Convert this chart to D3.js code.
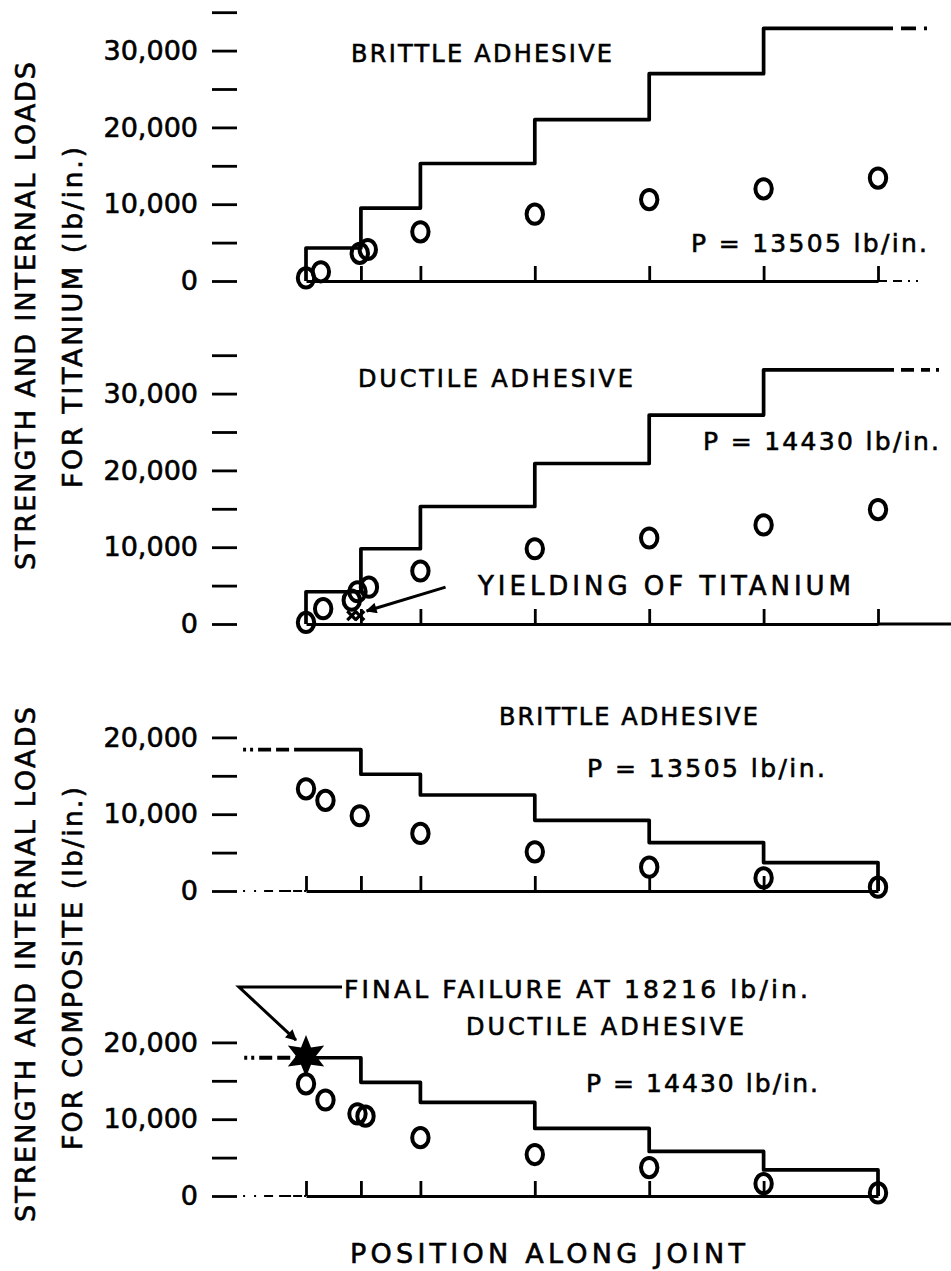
<!doctype html>
<html>

<head>
  <meta charset="utf-8">
  <title>strength and internal loads along joint</title>
  <style>
    body {
      margin: 0;
      background: #fff;
    }

    svg {
      display: block;
    }

    text {
      font-family: 'DejaVu Sans', sans-serif;
      fill: #000;
      stroke: #000;
      stroke-width: 0.6px;
    }
  </style>
</head>

<body>
  <div id="chart"></div>
  <script src="https://cdn.jsdelivr.net/npm/d3@7"></script>
  <script>
    // stations along the joint (x units)
    const stations = [0, 0.48, 1, 2, 3, 4, 5];

    // titanium - brittle adhesive
    const tiBrittleStrength = [4300, 9500, 15300, 21000, 27000, 32900];
    const tiBrittlePos = [0, 0.13, 0.47, 0.54, 1, 2, 3, 4, 5];
    const tiBrittleLoad = [400, 1200, 3600, 4100, 6400, 8700, 10600, 12000, 13400];

    // titanium - ductile adhesive
    const tiDuctileStrength = [4200, 9800, 15300, 20900, 27200, 33100];
    const tiDuctilePos = [0, 0.15, 0.4, 0.45, 0.55, 1, 2, 3, 4, 5];
    const tiDuctileLoad = [200, 2000, 3100, 4200, 4800, 6900, 9800, 11200, 12900, 14900];
    const yieldPos = [0.4, 0.47];
    const yieldLoad = [1100, 1100];

    // composite - brittle adhesive
    const coBrittleStrength = [18400, 15200, 12500, 9200, 6300, 3700];
    const coBrittlePos = [0, 0.17, 0.47, 1, 2, 3, 4, 5];
    const coBrittleLoad = [13300, 11800, 9800, 7500, 5100, 3100, 1700, 500];

    // composite - ductile adhesive
    const coDuctileStrength = [18000, 14800, 12200, 8800, 5800, 3400];
    const coDuctilePos = [0, 0.17, 0.45, 0.52, 1, 2, 3, 4, 5];
    const coDuctileLoad = [14600, 12500, 10700, 10400, 7600, 5400, 3700, 1600, 400];
    const finalFailure = 18216;

    const W = 951, H = 1271;
    const pxPer10k = 76.8;

    const svg = d3.select('#chart').append('svg')
      .attr('width', W).attr('height', H);
    svg.append('rect').attr('width', W).attr('height', H).attr('fill', '#fff');

    svg.append('defs').append('marker')
      .attr('id', 'arrow')
      .attr('viewBox', '0 0 10 10')
      .attr('refX', 9).attr('refY', 5)
      .attr('markerUnits', 'userSpaceOnUse')
      .attr('markerWidth', 14).attr('markerHeight', 11)
      .attr('orient', 'auto')
      .append('path').attr('d', 'M0,0L10,5L0,10z').attr('fill', '#000');

    const x = d3.scaleLinear().domain([0, 5]).range([306, 878]);
    const fmt = d3.format(',');
    const line = d3.line().x(d => x(d[0]));

    // panel builder
    const panel = (y0, yMax, strength, pos, load, rising) => {
      const y = d3.scaleLinear().domain([0, yMax]).range([y0, y0 - yMax / 10000 * pxPer10k]);
      line.y(d => y(d[1]));
      const g = svg.append('g');

      // left ticks
      const yAxis = d3.axisLeft(y)
        .tickValues(d3.range(0, yMax + 1, 5000))
        .tickSize(25).tickPadding(14)
        .tickFormat(v => v % 10000 === 0 ? fmt(v) : '');
      g.append('g').attr('transform', 'translate(237,0)').call(yAxis)
        .call(a => a.select('.domain').remove())
        .call(a => a.selectAll('line').attr('stroke-width', 2.8))
        .call(a => a.selectAll('text').attr('font-size', 27)
          .attr('font-family', "'DejaVu Sans', sans-serif"));

      // baseline with station ticks
      const xAxis = d3.axisBottom(x)
        .tickValues(rising ? stations.slice(1) : stations)
        .tickSize(-15).tickSizeOuter(0).tickFormat('');
      g.append('g').attr('transform', `translate(0,${y0})`).call(xAxis)
        .call(a => a.select('.domain').attr('stroke-width', 3.2))
        .call(a => a.selectAll('line').attr('stroke-width', 2.8));

      // strength step line
      const pts = [];
      if (rising) pts.push([0, 0]);
      strength.forEach((s, i) => {
        pts.push([stations[i], s], [stations[i + 1], s]);
      });
      if (!rising) pts.push([5, 0]);
      g.append('path').attr('d', line(pts))
        .attr('fill', 'none').attr('stroke', '#000')
        .attr('stroke-width', 3.7).attr('stroke-linejoin', 'round');

      // internal load points
      g.selectAll('ellipse.load').data(d3.zip(pos, load)).join('ellipse')
        .attr('class', 'load')
        .attr('cx', d => x(d[0])).attr('cy', d => y(d[1]))
        .attr('rx', 8.2).attr('ry', 9.6)
        .attr('fill', 'none').attr('stroke', '#000').attr('stroke-width', 4);

      return { g, y };
    };

    const dashed = (g, y, pts, dash, width) => {
      line.y(d => y(d[1]));
      g.append('path').attr('d', line(pts))
        .attr('fill', 'none').attr('stroke', '#000')
        .attr('stroke-width', width).attr('stroke-dasharray', dash);
    };

    const label = (t, lx, ly, size, len) => svg.append('text')
      .attr('x', lx).attr('y', ly)
      .attr('font-size', size)
      .attr('textLength', len).attr('lengthAdjust', 'spacing')
      .text(t);

    const vlabel = (t, lx, ly, size, len) => svg.append('text')
      .attr('transform', `translate(${lx},${ly}) rotate(-90)`)
      .attr('font-size', size)
      .attr('textLength', len).attr('lengthAdjust', 'spacing')
      .text(t);

    // --- titanium, brittle
    const p1 = panel(281, 35000, tiBrittleStrength, tiBrittlePos, tiBrittleLoad, true);
    dashed(p1.g, p1.y, [[5, tiBrittleStrength[5]], [5.56, tiBrittleStrength[5]]], '15,8,15,8,3,30', 3.7);
    dashed(p1.g, p1.y, [[5, 0], [5.45, 0]], '9,6,9,6,2,6,2,30', 2.2);
    label('BRITTLE ADHESIVE', 351, 62, 24, 261);
    label('P = 13505 lb/in.', 691, 252, 25, 236);

    // --- titanium, ductile
    const p2 = panel(624, 35000, tiDuctileStrength, tiDuctilePos, tiDuctileLoad, true);
    dashed(p2.g, p2.y, [[5, tiDuctileStrength[5]], [5.7, tiDuctileStrength[5]]], '16,7,13,7,9,6,3,30', 3.7);
    dashed(p2.g, p2.y, [[5, 0], [5.7, 0]], 'none', 3.2);
    // yielding marks
    p2.g.selectAll('path.yield').data(d3.zip(yieldPos, yieldLoad)).join('path')
      .attr('class', 'yield')
      .attr('d', d => {
        const cx = x(d[0]), cy = p2.y(d[1]), s = 4.5;
        return `M${cx - s},${cy - s}L${cx + s},${cy + s}M${cx - s},${cy + s}L${cx + s},${cy - s}`;
      })
      .attr('stroke', '#000').attr('stroke-width', 3.2);
    svg.append('line')
      .attr('x1', x(1.22)).attr('y1', p2.y(4800))
      .attr('x2', x(0.53)).attr('y2', p2.y(1700))
      .attr('stroke', '#000').attr('stroke-width', 3)
      .attr('marker-end', 'url(#arrow)');
    label('DUCTILE ADHESIVE', 358, 387, 24, 275);
    label('P = 14430 lb/in.', 703, 450, 25, 236);
    label('YIELDING OF TITANIUM', 478, 595, 26, 373);

    // --- composite, brittle
    const p3 = panel(891, 20000, coBrittleStrength, coBrittlePos, coBrittleLoad, false);
    dashed(p3.g, p3.y, [[-0.55, coBrittleStrength[0]], [0, coBrittleStrength[0]]], '3,4,3,5,13,5,13,5,13', 3.8);
    dashed(p3.g, p3.y, [[-0.55, 0], [0, 0]], '2,9,2,8,9,6,12', 2.2);
    label('BRITTLE ADHESIVE', 499, 725, 24, 259);
    label('P = 13505 lb/in.', 587, 777, 25, 238);

    // --- composite, ductile
    const p4 = panel(1196, 20000, coDuctileStrength, coDuctilePos, coDuctileLoad, false);
    dashed(p4.g, p4.y, [[-0.54, coDuctileStrength[0]], [0, coDuctileStrength[0]]], '3,4,3,5,13,5,13,5,13', 3.8);
    dashed(p4.g, p4.y, [[-0.55, 0], [0, 0]], '2,9,2,8,9,6,12', 2.2);

    // final failure star
    const sx = x(0), sy = p4.y(finalFailure);
    const starPts = d3.range(12).map(i => {
      const a = i * Math.PI / 6 - Math.PI / 2;
      const r = i % 2 ? 10 : 21;
      return [sx + r * Math.cos(a), sy + r * Math.sin(a)];
    });
    svg.append('path').attr('d', 'M' + starPts.join('L') + 'Z').attr('fill', '#000');
    svg.append('path')
      .attr('d', `M${sx + 36},${sy - 69}H${sx - 67}L${sx - 10},${sy - 16}`)
      .attr('fill', 'none').attr('stroke', '#000').attr('stroke-width', 3)
      .attr('marker-end', 'url(#arrow)');
    label('FINAL FAILURE AT 18216 lb/in.', 344, 998, 25, 464);
    label('DUCTILE ADHESIVE', 466, 1035, 24, 278);
    label('P = 14430 lb/in.', 586, 1092, 25, 232);

    // axis titles
    vlabel('STRENGTH AND INTERNAL LOADS', 35, 570, 27, 508);
    vlabel('FOR TITANIUM (lb/in.)', 82, 488, 27, 341);
    vlabel('STRENGTH AND INTERNAL LOADS', 35, 1222, 27, 515);
    vlabel('FOR COMPOSITE (lb/in.)', 82, 1150, 27, 363);
    label('POSITION ALONG JOINT', 350, 1263, 27, 395);
  </script>
</body>

</html>
